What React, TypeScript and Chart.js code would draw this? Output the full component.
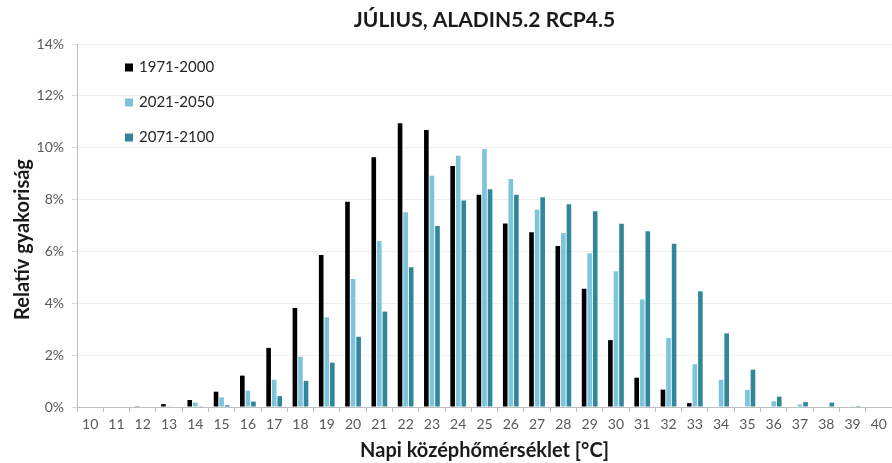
import { useEffect, useRef } from 'react';
import { Chart, registerables } from 'chart.js';

Chart.register(...registerables);

const FONT = 'Lato, "Open Sans", sans-serif';

// Napi középhőmérséklet osztályai (°C)
const temperatures = [
  10, 11, 12, 13, 14, 15, 16, 17, 18, 19, 20, 21, 22, 23, 24, 25,
  26, 27, 28, 29, 30, 31, 32, 33, 34, 35, 36, 37, 38, 39, 40,
];

// Relatív gyakoriság (%) időszakonként
const freq1971_2000 = [
  0, 0, 0.03, 0.11, 0.27, 0.59, 1.21, 2.28, 3.82, 5.86, 7.92, 9.63, 10.94, 10.68, 9.29, 8.19,
  7.08, 6.74, 6.21, 4.56, 2.58, 1.13, 0.67, 0.15, 0, 0, 0, 0, 0, 0, 0,
];
const freq2021_2050 = [
  0, 0, 0, 0.03, 0.17, 0.37, 0.63, 1.05, 1.94, 3.46, 4.94, 6.4, 7.51, 8.92, 9.69, 9.95,
  8.79, 7.61, 6.71, 5.93, 5.24, 4.15, 2.66, 1.65, 1.05, 0.66, 0.22, 0.1, 0.02, 0.01, 0,
];
const freq2071_2100 = [
  0, 0, 0, 0.02, 0.03, 0.07, 0.21, 0.42, 1.01, 1.71, 2.71, 3.68, 5.39, 6.98, 7.96, 8.4,
  8.19, 8.09, 7.82, 7.55, 7.07, 6.78, 6.3, 4.46, 2.84, 1.44, 0.4, 0.19, 0.17, 0.04, 0,
];

const periodLabels = ['1971-2000', '2021-2050', '2071-2100'];
const periodColors = ['#000000', '#7cc4da', '#31869b'];

const Y_TITLE = 'Relatív gyakoriság';

// Jelmagyarázat a rajzterület bal felső részén, egymás alatt,
// valamint a függőleges tengely felirata
const chartDecor = {
  id: 'chartDecor',
  afterDraw(chart: any) {
    const { ctx, chartArea } = chart;
    ctx.save();
    ctx.font = `15px ${FONT}`;
    ctx.textBaseline = 'middle';
    ctx.textAlign = 'left';
    chart.data.datasets.forEach((ds: any, i: number) => {
      const x = chartArea.left + 48;
      const y = chartArea.top + 23.5 + i * 35;
      ctx.fillStyle = ds.backgroundColor;
      ctx.fillRect(x, y - 4, 8, 8);
      ctx.fillStyle = '#262626';
      ctx.fillText(ds.label, x + 14, y);
    });

    ctx.translate(23, (chartArea.top + chartArea.bottom) / 2 + 14);
    ctx.rotate(-Math.PI / 2);
    ctx.font = `bold 20px ${FONT}`;
    ctx.fillStyle = '#1a1a1a';
    ctx.textAlign = 'center';
    ctx.fillText(Y_TITLE, 0, 0);
    ctx.restore();
  },
};

export default function App() {
  const canvasRef = useRef<HTMLCanvasElement>(null);

  useEffect(() => {
    const series = [freq1971_2000, freq2021_2050, freq2071_2100];
    const chart = new Chart(canvasRef.current!, {
      type: 'bar',
      data: {
        labels: temperatures.map(String),
        datasets: series.map((data, i) => ({
          label: periodLabels[i],
          data,
          backgroundColor: periodColors[i],
          borderWidth: 0,
          categoryPercentage: 0.635,
          barPercentage: 0.83,
        })),
      },
      options: {
        responsive: false,
        devicePixelRatio: 1,
        animation: false,
        layout: { padding: 0 },
        plugins: {
          legend: { display: false },
          tooltip: { enabled: false },
          title: {
            display: true,
            text: 'JÚLIUS, ALADIN5.2 RCP4.5',
            fullSize: false,
            color: '#1a1a1a',
            font: { family: FONT, size: 21, weight: 'bold' },
            padding: { top: 7.5, bottom: 11.3 },
          },
        },
        scales: {
          x: {
            grid: {
              display: true,
              drawOnChartArea: false,
              offset: true,
              tickLength: 5,
              color: '#bfbfbf',
            },
            border: { color: '#bfbfbf' },
            ticks: {
              font: { family: FONT, size: 14 },
              color: '#595959',
              padding: 4,
              maxRotation: 0,
              autoSkip: false,
            },
            title: {
              display: true,
              text: 'Napi középhőmérséklet [°C]',
              color: '#1a1a1a',
              font: { family: FONT, size: 20, weight: 'bold' },
              padding: { top: 0, bottom: 0 },
            },
            afterFit(scale: any) {
              scale.height = 56;
            },
          },
          y: {
            min: 0,
            max: 14,
            ticks: {
              stepSize: 2,
              callback: (v: any) => `${v}%`,
              font: { family: FONT, size: 14 },
              color: '#595959',
              padding: 8,
            },
            grid: { color: '#efefef', tickLength: 5, tickColor: '#d9d9d9' },
            border: { color: '#bfbfbf' },
            afterFit(scale: any) {
              scale.width = 77;
            },
          },
        },
      },
      plugins: [chartDecor],
    });
    return () => chart.destroy();
  }, []);

  return (
    <div style={{ position: 'fixed', left: 0, top: 0, width: 892, height: 463, background: '#fff' }}>
      <canvas ref={canvasRef} width={892} height={463} style={{ display: 'block' }} />
    </div>
  );
}
